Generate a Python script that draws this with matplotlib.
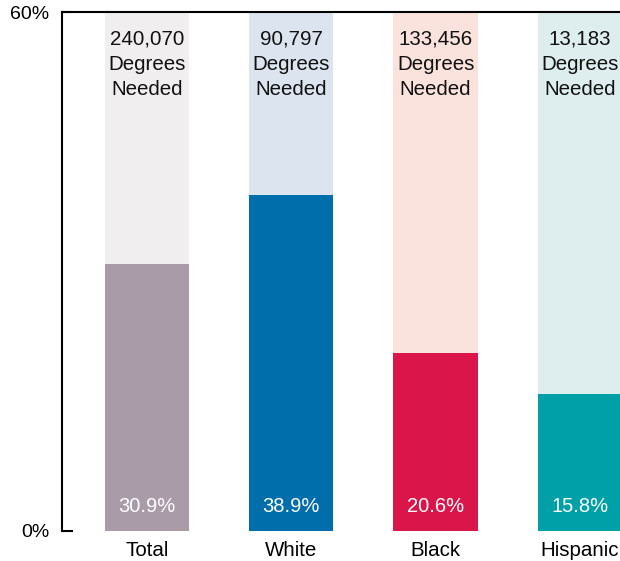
import matplotlib.pyplot as plt

plt.rcParams['font.family'] = ['Liberation Sans', 'DejaVu Sans']

groups = ['Total', 'White', 'Black', 'Hispanic']
shares = [30.9, 38.9, 20.6, 15.8]
needed = ['240,070', '90,797', '133,456', '13,183']
fg_colors = ['#a99ca8', '#006eab', '#d9154a', '#00a0a8']
bg_colors = ['#f0eeef', '#dbe4ef', '#fae3dc', '#deeeee']

fig = plt.figure(figsize=(6.2, 5.61), dpi=100)
ax = fig.add_axes([0.1, 0.0535, 0.9, 0.925])

x = range(len(groups))
w = 0.585
ax.bar(x, [60] * len(groups), width=w, color=bg_colors, zorder=1)
ax.bar(x, shares, width=w, color=fg_colors, zorder=2)

for i in x:
    ax.text(i, 58.0, needed[i] + '\nDegrees\nNeeded', ha='center', va='top',
            fontsize=14.8, linespacing=1.42, color='#111111', zorder=3)
    ax.text(i, 2.2, f'{shares[i]:.1f}%', ha='center', va='baseline',
            fontsize=14.5, color='white', zorder=3)

ax.set_xlim(-0.589, 3.278)
ax.set_ylim(0, 60)
ax.set_yticks([0, 60])
ax.set_yticklabels(['0%', '60%'], fontsize=14)
ax.set_xticks(list(x))
ax.set_xticklabels(groups, fontsize=14.8)
ax.tick_params(axis='x', length=0, pad=7)
ax.tick_params(axis='y', direction='in', length=8, width=1.5, pad=9)

for side in ['right', 'bottom']:
    ax.spines[side].set_visible(False)
ax.spines['left'].set_linewidth(1.5)
ax.spines['top'].set_linewidth(1.5)

fig.savefig('out.png', dpi=100)
